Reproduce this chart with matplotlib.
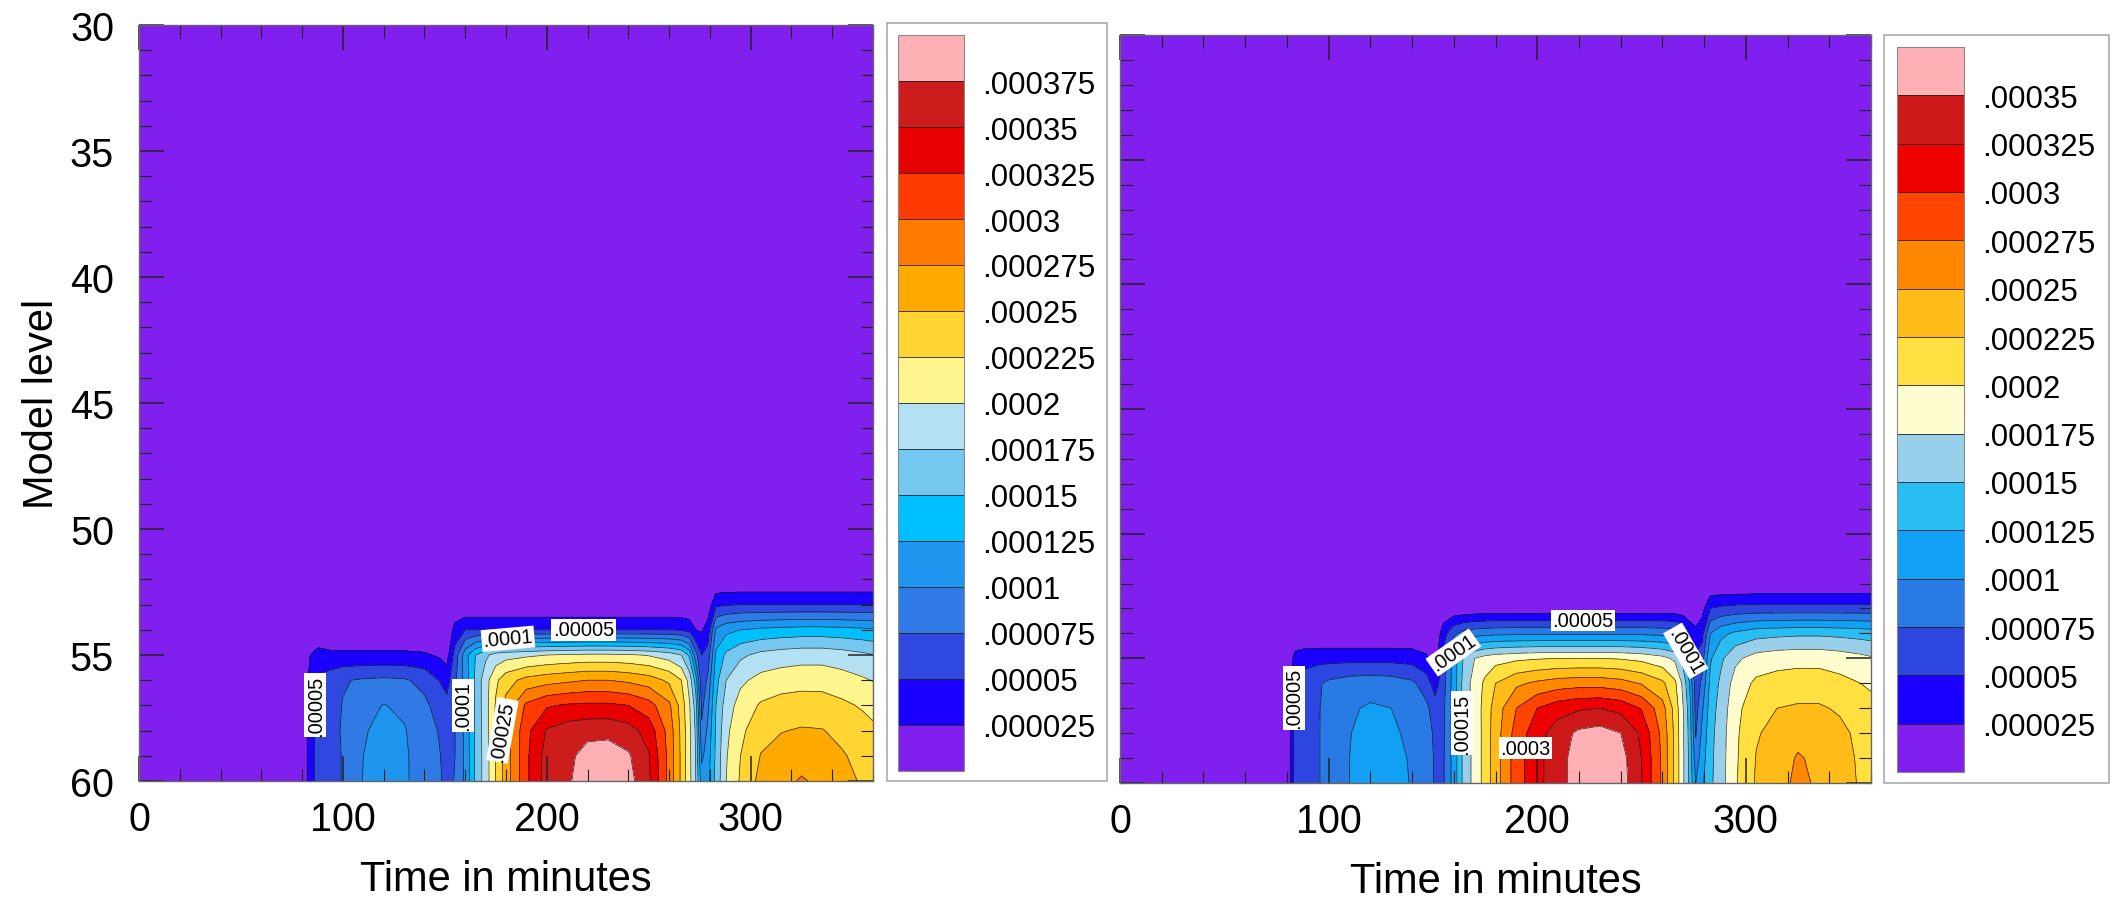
import numpy as np
import matplotlib
matplotlib.use("Agg")
import matplotlib.pyplot as plt
from matplotlib.patches import Rectangle
from matplotlib.ticker import MultipleLocator

plt.rcParams['font.family'] = ['Liberation Sans', 'DejaVu Sans']

# ===========================================================================
# DATA  (values in units of 1e-6, rows = model levels 52..60)
# ===========================================================================

times = [0, 80, 84, 88, 95, 100, 110, 120, 130, 140,
         147, 151, 155, 160, 165, 170, 175, 180, 190, 200,
         210, 220, 230, 240, 250, 260, 266, 270, 273, 276,
         279, 283, 288, 295, 305, 315, 325, 335, 345, 355,
         360]
model_levels = [52, 53, 54, 55, 56, 57, 58, 59, 60]

left_field = [
    [0] * 41,
    [0, 0, 0, 0, 0, 0, 0, 0, 0, 0, 0, 0, 0, 0, 0, 0, 0, 0, 0, 0,
     0, 0, 0, 0, 0, 0, 0, 0, 0, 0, 10, 45, 48, 50, 50, 50, 50, 50, 50, 50, 50],
    [0, 0, 0, 0, 0, 0, 0, 0, 0, 0, 0, 0, 35, 50, 50, 50, 50, 50, 50, 50,
     50, 50, 50, 50, 50, 50, 48, 42, 25, 22, 35, 105, 118, 125, 130, 133, 135, 135, 133, 130, 128],
    [0, 0, 25, 35, 30, 30, 30, 30, 30, 28, 22, 15, 60, 115, 150, 170, 185, 190, 195, 200,
     203, 205, 205, 203, 198, 188, 175, 145, 85, 50, 60, 130, 155, 170, 182, 187, 190, 190, 186, 180, 176],
    [0, 0, 35, 55, 65, 73, 78, 80, 78, 68, 50, 40, 70, 110, 155, 190, 220, 240, 258, 265,
     270, 275, 275, 270, 262, 245, 225, 190, 140, 58, 80, 142, 175, 195, 208, 213, 215, 215, 210, 203, 199],
    [0, 0, 38, 58, 68, 76, 92, 101, 95, 80, 66, 58, 74, 107, 155, 190, 228, 258, 305, 322,
     328, 330, 330, 325, 310, 280, 240, 202, 165, 68, 95, 150, 187, 210, 228, 235, 238, 237, 230, 222, 217],
    [0, 0, 40, 60, 70, 77, 98, 106, 102, 85, 74, 65, 75, 106, 155, 188, 228, 262, 318, 352,
     362, 367, 368, 360, 340, 290, 244, 205, 172, 80, 105, 154, 194, 219, 242, 249, 252, 251, 244, 235, 230],
    [0, 0, 40, 60, 70, 76, 100, 109, 104, 87, 77, 68, 75, 105, 155, 187, 227, 262, 320, 360,
     368, 385, 387, 378, 352, 292, 245, 206, 175, 95, 112, 156, 198, 225, 251, 259, 263, 260, 252, 243, 238],
    [0, 0, 40, 60, 70, 76, 101, 111, 104, 88, 78, 70, 76, 105, 155, 187, 226, 262, 320, 360,
     370, 392, 395, 384, 355, 292, 245, 207, 176, 112, 118, 158, 200, 228, 258, 266, 278, 268, 258, 247, 242],
]

right_field = [
    [0] * 41,
    [0, 0, 0, 0, 0, 0, 0, 0, 0, 0, 0, 0, 3, 5, 5, 6, 7, 8, 8, 8,
     8, 8, 8, 8, 8, 8, 7, 5, 3, 0, 15, 50, 55, 58, 60, 60, 60, 60, 60, 60, 60],
    [0, 0, 0, 0, 0, 0, 0, 0, 0, 0, 0, 0, 40, 70, 85, 90, 92, 94, 95, 95,
     95, 95, 95, 95, 95, 93, 90, 75, 45, 33, 42, 100, 118, 130, 140, 143, 145, 145, 143, 140, 138],
    [0, 0, 35, 40, 42, 42, 42, 42, 42, 40, 30, 12, 58, 112, 155, 175, 185, 190, 195, 198,
     200, 200, 200, 198, 193, 183, 170, 138, 90, 55, 64, 122, 145, 170, 185, 190, 192, 192, 188, 182, 178],
    [0, 0, 55, 62, 72, 80, 88, 90, 88, 80, 62, 38, 66, 112, 162, 185, 205, 225, 245, 255,
     262, 265, 265, 260, 248, 230, 205, 168, 125, 60, 80, 132, 155, 185, 205, 210, 212, 212, 207, 200, 196],
    [0, 0, 60, 66, 73, 84, 97, 103, 100, 90, 80, 62, 70, 111, 161, 184, 210, 236, 275, 300,
     315, 322, 325, 318, 298, 260, 216, 175, 138, 65, 95, 138, 160, 192, 217, 225, 228, 228, 222, 213, 208],
    [0, 0, 62, 67, 73, 85, 99, 110, 104, 95, 86, 70, 71, 110, 160, 183, 210, 238, 285, 315,
     338, 355, 360, 350, 320, 268, 219, 177, 142, 73, 105, 142, 163, 195, 223, 232, 240, 238, 231, 219, 213],
    [0, 0, 62, 67, 73, 85, 100, 112, 106, 98, 88, 72, 72, 110, 160, 183, 210, 238, 288, 318,
     340, 362, 372, 360, 325, 270, 220, 178, 144, 85, 113, 144, 164, 196, 226, 235, 253, 243, 235, 221, 214],
    [0, 0, 62, 67, 73, 85, 100, 113, 106, 99, 88, 72, 72, 110, 160, 183, 210, 238, 288, 318,
     340, 362, 375, 362, 326, 270, 220, 178, 145, 100, 120, 145, 165, 197, 228, 237, 258, 245, 237, 222, 215],
]

left_cbar_labels = ['.000025', '.00005', '.000075', '.0001', '.000125', '.00015', '.000175',
                    '.0002', '.000225', '.00025', '.000275', '.0003', '.000325', '.00035', '.000375']
right_cbar_labels = ['.000025', '.00005', '.000075', '.0001', '.000125', '.00015', '.000175',
                     '.0002', '.000225', '.00025', '.000275', '.0003', '.000325', '.00035']

# band colours, lowest band first
left_colors = ['#801fee', '#1a00ff', '#2f48e0', '#2f7ae5', '#1e96f0', '#00bfff', '#74c8f0',
               '#b4e0f4', '#fff58f', '#ffd433', '#ffaa00', '#ff7a00', '#ff3a00', '#e60000',
               '#cc1c1c', '#ffb0b4']
right_colors = ['#801fee', '#1a00ff', '#2e46e0', '#2a7ae6', '#12a0f5', '#28bdf3', '#98d0ec',
                '#fffdd0', '#ffe040', '#ffbb18', '#ff8800', '#ff4400', '#ee0000', '#cc1818',
                '#ffb0b4']

# contour labels: (level, (time, model level), text angle or None for automatic)
left_label_spots = [('.00005', (90, 57), 90), ('.0001', (158, 57), 90), ('.00025', (181, 58), 80),
                    ('.0001', (181, 54.5), 5), ('.00005', (218, 54.0), 0)]
right_label_spots = [('.00005', (91, 56.6), 90), ('.0001', (161, 54.8), 35),
                     ('.00015', (164.5, 57.6), 90), ('.0003', (193, 58.6), 0),
                     ('.00005', (222, 53.7), 0), ('.0001', (264, 54.9), -60)]

# ===========================================================================
# PLOT
# ===========================================================================

W, H = 2112, 904


def frac(x0, y0, x1, y1):
    return [x0 / W, 1 - y1 / H, (x1 - x0) / W, (y1 - y0) / H]


def fmt(v):
    return ('%.6f' % v).rstrip('0').lstrip('0')


def draw_panel(fig, ax, cax, field, cbar_labels, colors, label_spots, first):
    q = np.vstack([np.zeros(len(times)), np.array(field, dtype=float)]) * 1e-6
    y = [30] + model_levels
    inner = [float(s) for s in cbar_labels]
    cf = ax.contourf(times, y, q, levels=[-1.0] + inner + [1.0], colors=colors)
    ax.contour(times, y, q, levels=inner, colors='k', linewidths=0.5, alpha=0.8)

    # one invisible contour per label so the label sits on the wanted level
    for name, pt, rot in label_spots:
        cl = ax.contour(times, y, q, levels=[float(name)], colors='none')
        txts = ax.clabel(cl, manual=[pt], fmt=fmt, fontsize=14.5, colors='k',
                         inline=False)
        for t in txts:
            t.set_bbox(dict(facecolor='white', edgecolor='none', pad=1.0))
            if rot is not None:
                t.set_rotation(rot)

    ax.set_xlim(0, 360)
    ax.set_ylim(60, 30)
    ax.set_xticks([0, 100, 200, 300])
    ax.set_yticks([30, 35, 40, 45, 50, 55, 60])
    ax.xaxis.set_minor_locator(MultipleLocator(20))
    ax.yaxis.set_minor_locator(MultipleLocator(1))
    ax.tick_params(which='both', direction='in', top=True, right=True, color='#222222')
    ax.tick_params(which='major', length=18, width=1.1, labelsize=28.5)
    ax.tick_params(which='minor', length=9, width=0.8)
    ax.tick_params(axis='x', pad=14)
    ax.tick_params(axis='y', pad=18, labelleft=first)
    for s in ax.spines.values():
        s.set_color('#666666')
        s.set_linewidth(1.0)
    ax.set_xlabel('Time in minutes', fontsize=30, labelpad=15)
    if first:
        ax.set_ylabel('Model level', fontsize=30)
        ax.yaxis.set_label_coords(-0.105, 0.5)

    cb = fig.colorbar(cf, cax=cax, drawedges=True)
    cb.set_ticks(inner, labels=cbar_labels)
    cb.ax.tick_params(length=0, labelsize=22.5, pad=13)
    cb.outline.set_edgecolor('#888888')
    cb.outline.set_linewidth(0.8)
    cb.dividers.set_color('#222222')
    cb.dividers.set_linewidth(0.6)


fig = plt.figure(figsize=(21.12, 9.04), dpi=100)

ax_l = fig.add_axes(frac(139, 26, 873, 782))
cax_l = fig.add_axes(frac(898, 36, 964, 772))
ax_r = fig.add_axes(frac(1120, 36, 1871, 784))
cax_r = fig.add_axes(frac(1897, 48, 1964, 773))

for box in [frac(887, 24, 1107, 782), frac(1884, 36, 2109, 784)]:
    fig.add_artist(Rectangle((box[0], box[1]), box[2], box[3], transform=fig.transFigure,
                             fill=False, edgecolor='#aaaaaa', linewidth=1.2))

draw_panel(fig, ax_l, cax_l, left_field, left_cbar_labels, left_colors, left_label_spots, True)
draw_panel(fig, ax_r, cax_r, right_field, right_cbar_labels, right_colors, right_label_spots, False)

fig.savefig('out.png', dpi=100)
